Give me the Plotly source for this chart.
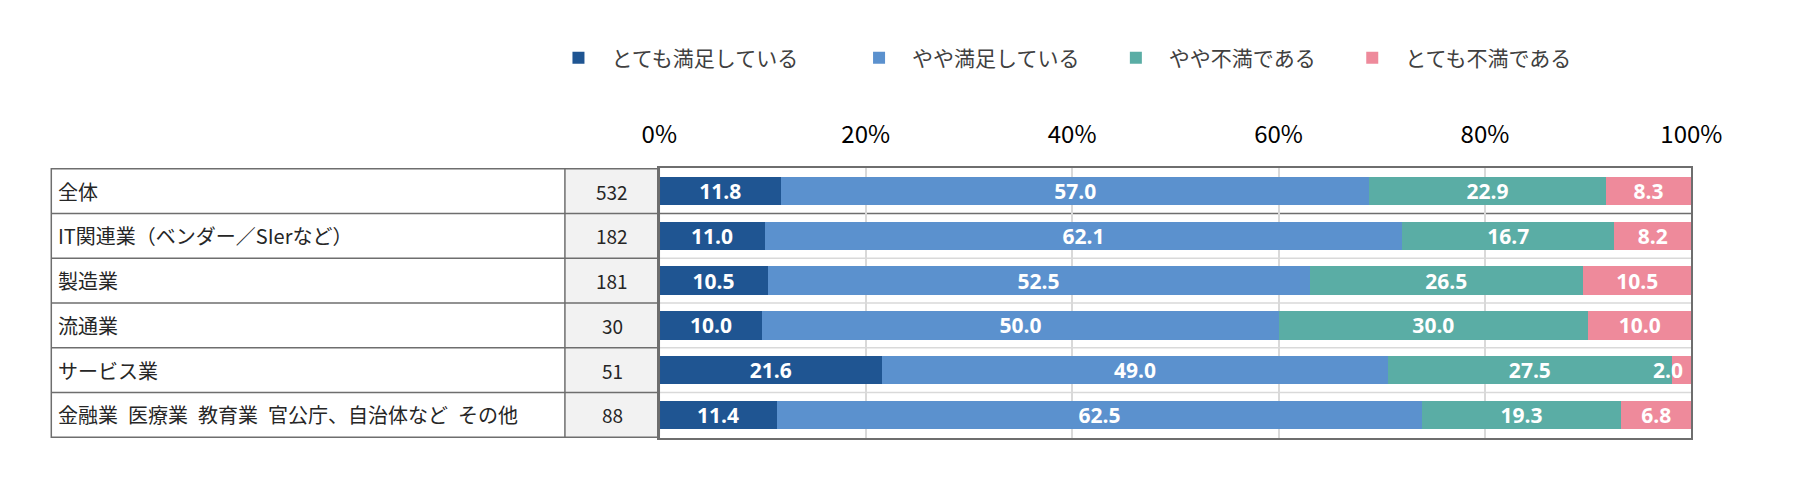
import plotly.graph_objects as go

# rows of the table / bar chart
categories = ["全体", "IT関連業（ベンダー／SIerなど）", "製造業", "流通業", "サービス業",
              "金融業\u2002医療業\u2002教育業\u2002官公庁、自治体など\u2002その他"]
counts = [532, 182, 181, 30, 51, 88]

series_names = ["とても満足している", "やや満足している", "やや不満である", "とても不満である"]

# bar lengths (%) as drawn
very_sat = [11.8, 10.2, 10.5, 10.0, 21.6, 11.4]
some_sat = [57.0, 61.8, 52.5, 50.0, 49.0, 62.5]
some_dis = [22.9, 20.5, 26.5, 30.0, 27.5, 19.3]
very_dis = [8.3, 7.5, 10.5, 10.0, 2.0, 6.8]

# numbers printed on the bars
very_sat_lbl = [11.8, 11.0, 10.5, 10.0, 21.6, 11.4]
some_sat_lbl = [57.0, 62.1, 52.5, 50.0, 49.0, 62.5]
some_dis_lbl = [22.9, 16.7, 26.5, 30.0, 27.5, 19.3]
very_dis_lbl = [8.3, 8.2, 10.5, 10.0, 2.0, 6.8]

tick_vals = [0, 20, 40, 60, 80, 100]
tick_text = ["0%", "20%", "40%", "60%", "80%", "100%"]

colors = ["#1F5592", "#5B91CE", "#5AADA5", "#EE8A9B"]

W, H = 1800, 484
OFF = 8  # page body margin pushes the figure 8px right/down
plot_left, plot_right = 659 - OFF, 1720 - OFF
plot_top, plot_bottom = 168 - OFF, 438 - OFF
table_left, count_left = 34 - OFF, 562 - OFF
legend_y = 58 - OFF
jp_font = "Noto Sans CJK JP"
num_font = dict(family="Open Sans", size=21, color="white", weight="bold")
border = "#6E6E6E"

fig = go.Figure()

values = [very_sat, some_sat, some_dis, very_dis]
labels = [very_sat_lbl, some_sat_lbl, some_dis_lbl, very_dis_lbl]
legend_ids = ["legend", "legend2", "legend3", "legend4"]
annotations = []
for si, (name, vals, lbls, col, lg) in enumerate(zip(series_names, values, labels, colors, legend_ids)):
    last = si == len(series_names) - 1
    # a slice too thin for its number gets the number pulled in from the right edge
    pos = ["none" if (last and v < 4) else "inside" for v in vals]
    if last:
        for cat, v, lb in zip(categories, vals, lbls):
            if v < 4:
                annotations.append(dict(x=100, xref="x", y=cat, yref="y", text=f"{lb:.1f}",
                                        showarrow=False, xanchor="right", xshift=-6,
                                        font=num_font))
    fig.add_trace(go.Bar(
        y=categories, x=vals, name=name, orientation="h",
        marker=dict(color=col, line=dict(width=0)),
        text=[f"{v:.1f}" for v in lbls], textposition=pos,
        insidetextanchor="middle", textangle=0, constraintext="none",
        textfont=num_font,
        legend=lg,
    ))

shapes = []
px = lambda v: v / W
# count column shading
shapes.append(dict(type="rect", xref="paper", yref="y", x0=px(count_left), x1=px(plot_left),
                   y0=-0.5, y1=len(categories) - 0.5, fillcolor="#F2F2F2",
                   line=dict(width=0), layer="below"))
# table outline
shapes.append(dict(type="rect", xref="paper", yref="y", x0=px(table_left), x1=px(plot_left),
                   y0=-0.5, y1=len(categories) - 0.5, line=dict(color=border, width=1.5)))
shapes.append(dict(type="line", xref="paper", yref="y", x0=px(count_left), x1=px(count_left),
                   y0=-0.5, y1=len(categories) - 0.5, line=dict(color=border, width=1.5)))
for k in range(len(categories) - 1):
    shapes.append(dict(type="line", xref="paper", yref="y", x0=px(table_left), x1=px(plot_left),
                       y0=k + 0.5, y1=k + 0.5, line=dict(color=border, width=1.5)))
    shapes.append(dict(type="line", xref="paper", yref="y", x0=px(plot_left), x1=px(plot_right),
                       y0=k + 0.5, y1=k + 0.5, layer="below",
                       line=dict(color=border if k == 0 else "#D9D9D9", width=1.5)))

for cat, n in zip(categories, counts):
    annotations.append(dict(x=px(table_left + 5), xref="paper", y=cat, yref="y", text=cat,
                            showarrow=False, xanchor="left",
                            font=dict(family=jp_font, size=20, color="#262626")))
    annotations.append(dict(x=px((count_left + plot_left) / 2), xref="paper", y=cat, yref="y",
                            text=str(n), showarrow=False, xanchor="center",
                            font=dict(family=jp_font, size=19, color="#262626")))

# centre of each legend square in the picture
legend_sq = [576, 885, 1149, 1392]
legend_cfg = {}
for lg, sx in zip(legend_ids, legend_sq):
    legend_cfg[lg] = dict(x=px(sx - OFF - 34), y=(H - legend_y) / H, xanchor="left",
                          yanchor="middle", orientation="h", itemwidth=56,
                          bgcolor="rgba(0,0,0,0)",
                          font=dict(family=jp_font, size=21, color="#404040"))

fig.update_layout(
    width=W, height=H, barmode="stack", bargap=0.36,
    margin=dict(l=0, r=0, t=0, b=0),
    paper_bgcolor="white", plot_bgcolor="white",
    showlegend=True,
    xaxis=dict(domain=[px(plot_left), px(plot_right)], range=[0, 100], side="top",
               tickvals=tick_vals, ticktext=tick_text, ticklabelstandoff=14,
               tickfont=dict(family=jp_font, size=24, color="#000000"),
               showgrid=True, gridcolor="#D9D9D9", gridwidth=1.5, zeroline=False,
               showline=True, mirror=True, linecolor=border, linewidth=1.5, ticks=""),
    yaxis=dict(domain=[(H - plot_bottom) / H, (H - plot_top) / H], type="category",
               autorange="reversed", showticklabels=False, showgrid=False,
               showline=True, mirror=True, linecolor=border, linewidth=1.5, ticks=""),
    uniformtext=dict(minsize=21, mode="show"),
    shapes=shapes, annotations=annotations,
    **legend_cfg,
)

fig.write_html("out.html")
